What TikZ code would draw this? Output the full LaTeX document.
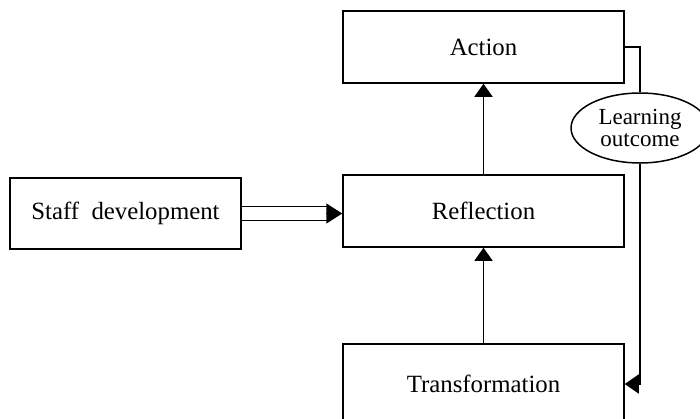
\documentclass[tikz,border=0pt]{standalone}
\usepackage{fontspec}
\setmainfont{Liberation Serif}
\usetikzlibrary{arrows.meta}
\usetikzlibrary{shapes.geometric}

\begin{document}
\begin{tikzpicture}[
  x=0.5pt, y=-0.5pt,
  stage/.style={draw, line width=0.75pt, inner sep=0pt, minimum width=140.5pt, minimum height=36pt, font=\fontsize{12.4}{14}\selectfont},
  up/.style={line width=0.75pt, -{Triangle[length=6.5pt, width=9pt]}}
]
  \useasboundingbox (0,0) rectangle (700,418);
  \node[stage] at (483.5,47) (action) {Action};
  \node[stage] at (483.5,211) (refl) {Reflection};
  \node[stage, minimum width=115.5pt, minimum height=35.5pt] at (125.5,213.5) (staff) {Staff\ \ development};
  \node[stage, minimum height=40pt] at (483.5,384) (trans) {Transformation};
  \node[draw, line width=0.75pt, ellipse, inner sep=0pt, minimum width=69pt, minimum height=35pt, align=center,
    font=\fontsize{11.5}{11}\selectfont] at (640,128) (outcome) {Learning\\outcome};
  % cycle
  \draw[up] (trans) -- (refl);
  \draw[up] (refl) -- (action);
  % feedback
  \draw[line width=0.75pt] (action.east) -| (outcome.north);
  \draw[line width=0.75pt, -{Triangle[length=7pt, width=9.5pt]}] (outcome.south) |- (trans.east);
  % staff development input
  \draw[line width=0.75pt, double, double distance=6.2pt, shorten >=7pt] (staff.east) -- (staff.east -| refl.west);
  \draw[line width=0.75pt, -{Triangle[length=8pt, width=10pt]}] ([xshift=-8pt]staff.east -| refl.west) -- (staff.east -| refl.west);
\end{tikzpicture}
\end{document}
